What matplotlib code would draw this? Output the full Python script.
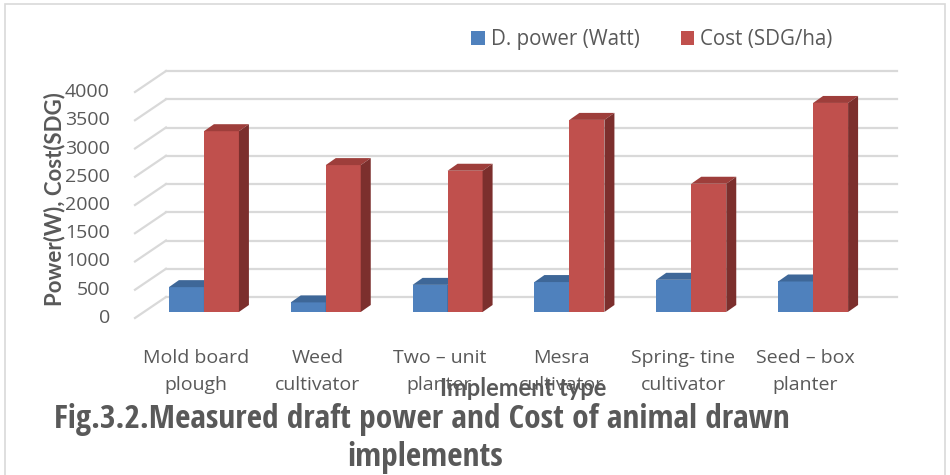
import matplotlib
matplotlib.use("Agg")
import matplotlib.pyplot as plt
from matplotlib.patches import Rectangle, Polygon, Patch
from matplotlib import font_manager

# ---- data ----
categories = ["Mold board\nplough", "Weed\ncultivator", "Two \u2013 unit\nplanter",
              "Mesra\ncultivator", "Spring- tine\ncultivator", "Seed \u2013 box\nplanter"]
draft_power = [440, 170, 480, 530, 570, 540]
cost = [3200, 2600, 2500, 3400, 2270, 3700]
series_names = ["D. power (Watt)", "Cost (SDG/ha)"]
y_ticks = [0, 500, 1000, 1500, 2000, 2500, 3000, 3500, 4000]
caption = ["Fig.3.2.Measured draft power and Cost of animal drawn", "implements"]

# ---- style ----
BLUE, BLUE_TOP, BLUE_SIDE = "#4F81BD", "#3E6798", "#355A85"
RED, RED_TOP, RED_SIDE = "#C0504D", "#9E3E3B", "#7C2F2D"
GRID = "#D9D9D9"
TXT = "#595959"
FONT = "Open Sans"
BOLD_FONT = "Lato"

# pick a narrow face for the caption if one is installed
names = {f.name for f in font_manager.fontManager.ttflist}
CAP_FONT = BOLD_FONT
for cand in ["Liberation Sans Narrow", "Open Sans Condensed", "Roboto Condensed",
             "Noto Sans Condensed", "DejaVu Sans Condensed"]:
    if cand in names:
        CAP_FONT = cand
        break

W, H, DPI = 950, 475, 100
fig = plt.figure(figsize=(W / DPI, H / DPI), dpi=DPI)

# front plane of the plot box in pixels
L, R, B, T = 135, 866, 318, 92
ax = fig.add_axes([L / W, 1 - B / H, (R - L) / W, (B - T) / H])
n = len(categories)
ax.set_xlim(-0.5, n - 0.5)
ax.set_ylim(0, 4000)
ax.axis("off")

px_x = n / (R - L)             # data units per pixel horizontally
px_y = 4000 / (B - T)          # data units per pixel vertically

# oblique depth offsets
back_dx, back_dy = 31 * px_x, 21 * px_y      # back wall
bar_dx, bar_dy = 8 * px_x, 6 * px_y          # bar row position
dep_dx, dep_dy = 10 * px_x, 7 * px_y         # bar depth
bw = 35 * px_x                               # bar width

# back wall gridlines and left-side diagonals
for v in y_ticks:
    ax.plot([-0.5 + back_dx, n - 0.5 + back_dx], [v + back_dy, v + back_dy],
            color=GRID, lw=1.6, clip_on=False, zorder=1)
    ax.plot([-0.5, -0.5 + back_dx], [v, v + back_dy],
            color=GRID, lw=1.6, clip_on=False, zorder=1)
    ax.text(-0.5 - 25 * px_x, v, f"{v}", ha="right", va="center",
            fontsize=14, color=TXT, family=FONT)


def bar3d(x0, h, front, top, side, z):
    x = x0 + bar_dx
    y = bar_dy
    ax.add_patch(Rectangle((x, y), bw, h, facecolor=front, edgecolor="none",
                           clip_on=False, zorder=z))
    ax.add_patch(Polygon([(x, y + h), (x + bw, y + h),
                          (x + bw + dep_dx, y + h + dep_dy), (x + dep_dx, y + h + dep_dy)],
                         closed=True, facecolor=top, edgecolor="none",
                         clip_on=False, zorder=z))
    ax.add_patch(Polygon([(x + bw, y), (x + bw + dep_dx, y + dep_dy),
                          (x + bw + dep_dx, y + h + dep_dy), (x + bw, y + h)],
                         closed=True, facecolor=side, edgecolor="none",
                         clip_on=False, zorder=z))


for i in range(n):
    bar3d(i - bw, draft_power[i], BLUE, BLUE_TOP, BLUE_SIDE, 3 + 2 * i)
    bar3d(i, cost[i], RED, RED_TOP, RED_SIDE, 4 + 2 * i)

# category labels
for i, lab in enumerate(categories):
    ax.text(i, -(349 - B) * px_y, lab, ha="center", va="top", fontsize=14,
            color=TXT, family=FONT, linespacing=1.65, clip_on=False)

# axis titles
fig.text(523 / W, 1 - 388 / H, "Implement type", ha="center", va="center",
         fontsize=17, fontweight="bold", color=TXT, family=BOLD_FONT)
fig.text(55 / W, 1 - 199 / H, "Power(W), Cost(SDG)", ha="center", va="center",
         rotation=90, fontsize=16, fontweight="bold", color=TXT, family=BOLD_FONT)

# legend
handles = [Patch(facecolor=BLUE, edgecolor="none"), Patch(facecolor=RED, edgecolor="none")]
leg = fig.legend(handles, series_names, loc="center", bbox_to_anchor=(652 / W, 1 - 40 / H),
                 ncol=2, frameon=False, handlelength=0.65, handleheight=0.65,
                 handletextpad=0.3, columnspacing=2.0,
                 prop={"family": FONT, "size": 14.8})
for t in leg.get_texts():
    t.set_color(TXT)

# figure caption, first line fitted to its width
cap1 = fig.text(422 / W, 1 - 420 / H, caption[0], ha="center", va="center",
                fontsize=20, fontweight="bold", color=TXT, family=CAP_FONT)
cap2 = fig.text(425 / W, 1 - 458 / H, caption[1], ha="center", va="center",
                fontsize=20, fontweight="bold", color=TXT, family=CAP_FONT)
renderer = fig.canvas.get_renderer()
wpx = cap1.get_window_extent(renderer).width
size = 20 * 735 / wpx
cap1.set_fontsize(size)
cap2.set_fontsize(size)

# chart area border
fig.add_artist(Rectangle((5 / W, -0.01), 940 / W, 1.01 - 4 / H, transform=fig.transFigure,
                         facecolor="none", edgecolor=GRID, lw=1.2))

fig.savefig("out.png", dpi=DPI)
